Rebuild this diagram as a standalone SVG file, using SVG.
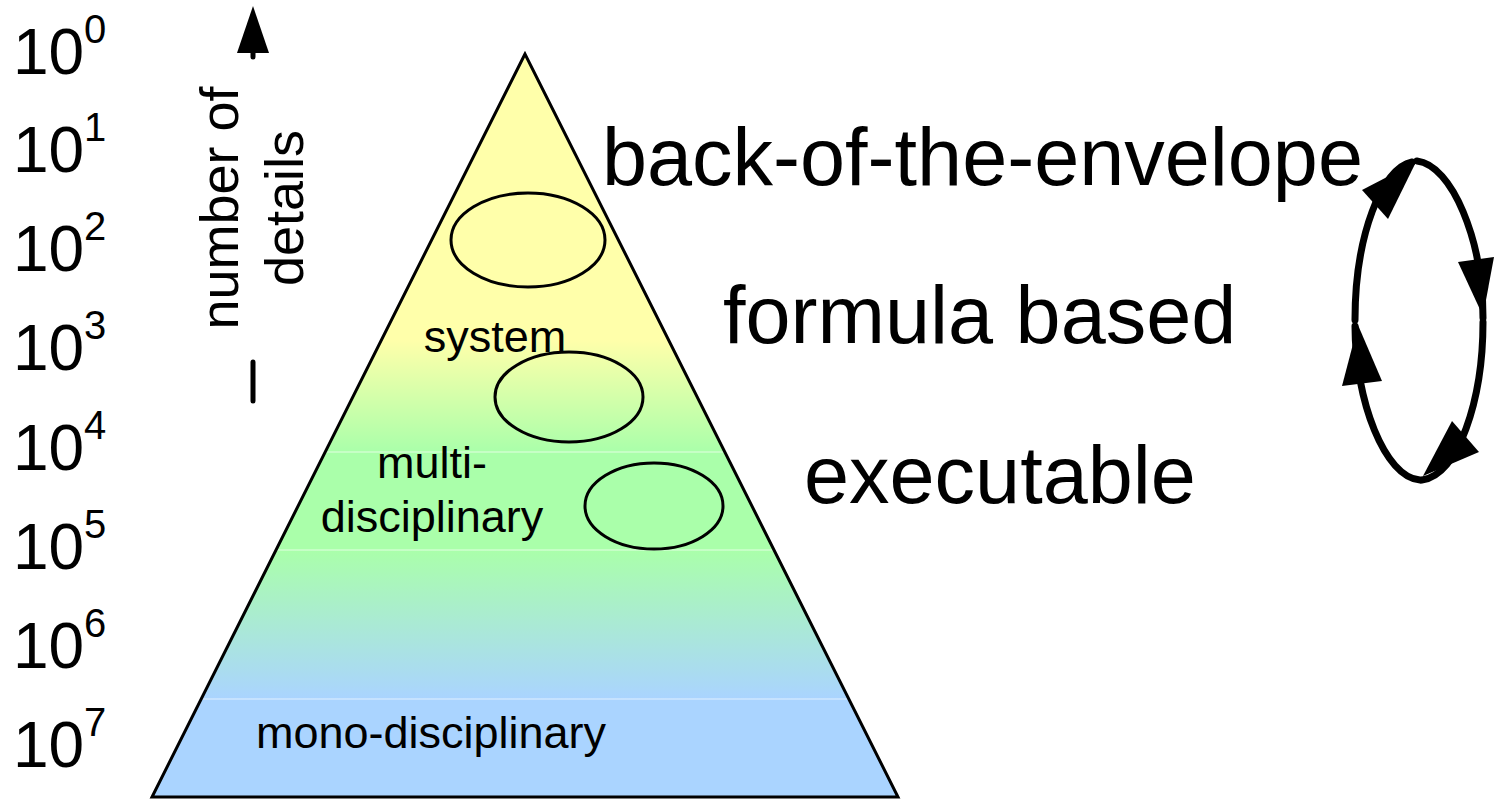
<svg xmlns="http://www.w3.org/2000/svg" width="1495" height="799" viewBox="0 0 1495 799">
<style>
  text { font-family: "Liberation Sans", Arial, sans-serif; fill: #000; }
  .pow { font-size: 64px; }
  .sup { font-size: 40px; }
  .axis { font-size: 54px; text-anchor: middle; }
  .big { font-size: 81px; }
  .lbl { font-size: 45px; text-anchor: middle; }
  .ell { fill: none; stroke: #000; stroke-width: 3; }
  .band { stroke: #ffffff; stroke-opacity: 0.45; stroke-width: 1.5; }
  .loop { fill: none; stroke: #000; stroke-width: 7; stroke-linecap: round; }
  .head { fill: #000; stroke: none; }
</style>
<defs>
  <linearGradient id="pyr" gradientUnits="userSpaceOnUse" x1="0" y1="55" x2="0" y2="797">
    <stop offset="0" stop-color="#ffffaa"/>
    <stop offset="0.384" stop-color="#ffffaa"/>
    <stop offset="0.535" stop-color="#aaffaa"/>
    <stop offset="0.667" stop-color="#aaffaa"/>
    <stop offset="0.868" stop-color="#aad4ff"/>
    <stop offset="1" stop-color="#aad4ff"/>
  </linearGradient>
  <clipPath id="triClip"><polygon points="525,54 152,797 898,797"/></clipPath>
</defs>

<g id="scale">
  <text class="pow" x="13" y="74">10<tspan class="sup" x="84" y="43">0</tspan></text>
  <text class="pow" x="13" y="172">10<tspan class="sup" x="84" y="141">1</tspan></text>
  <text class="pow" x="13" y="271">10<tspan class="sup" x="84" y="240">2</tspan></text>
  <text class="pow" x="13" y="370">10<tspan class="sup" x="84" y="339">3</tspan></text>
  <text class="pow" x="13" y="470">10<tspan class="sup" x="84" y="439">4</tspan></text>
  <text class="pow" x="13" y="569">10<tspan class="sup" x="84" y="538">5</tspan></text>
  <text class="pow" x="13" y="668">10<tspan class="sup" x="84" y="637">6</tspan></text>
  <text class="pow" x="13" y="767">10<tspan class="sup" x="84" y="736">7</tspan></text>
</g>

<g id="axis">
  <polygon class="head" points="253,6 269,53 237,53"/>
  <line x1="253" y1="52" x2="253" y2="57" stroke="#000" stroke-width="5" stroke-linecap="round"/>
  <line x1="253" y1="362" x2="253" y2="401" stroke="#000" stroke-width="5" stroke-linecap="round"/>
  <text class="axis" transform="translate(238,208) rotate(-90)">number of</text>
  <text class="axis" transform="translate(303,208) rotate(-90)">details</text>
</g>

<g id="pyramid">
  <polygon points="525,54 152,797 898,797" fill="url(#pyr)"/>
  <g clip-path="url(#triClip)">
    <line class="band" x1="150" y1="452" x2="900" y2="452"/>
    <line class="band" x1="150" y1="550" x2="900" y2="550"/>
    <line class="band" x1="150" y1="699" x2="900" y2="699"/>
  </g>
  <polygon points="525,54 152,797 898,797" fill="none" stroke="#000" stroke-width="3" stroke-linejoin="miter"/>
  <text class="lbl" x="495" y="352">system</text>
  <text class="lbl" x="432" y="478">multi-</text>
  <text class="lbl" x="432" y="532">disciplinary</text>
  <text class="lbl" x="431" y="748">mono-disciplinary</text>
</g>

<g id="ellipses">
  <ellipse id="e1" class="ell" cx="528" cy="240" rx="77" ry="47"/>
  <ellipse id="e2" class="ell" cx="569" cy="397" rx="74" ry="45"/>
  <ellipse id="e3" class="ell" cx="654" cy="506" rx="69" ry="43"/>
</g>

<g id="levels">
  <text class="big" x="602" y="185">back-of-the-envelope</text>
  <text class="big" x="723" y="343">formula based</text>
  <text class="big" x="804" y="503">executable</text>
</g>

<g id="cycle">
  <path class="loop" d="M1355,320 C1355,235 1382,168 1412,162"/>
  <path class="loop" d="M1417,161 C1452,165 1483,240 1483,318"/>
  <path class="loop" d="M1483,322 C1483,400 1458,476 1422,480"/>
  <path class="loop" d="M1420,480 C1385,478 1355,400 1355,326"/>
  <polygon class="head" points="1416,162 1362,190 1388,219"/>
  <polygon class="head" points="1483,316 1458,262 1494,257"/>
  <polygon class="head" points="1423,476 1452,421 1479,452"/>
  <polygon class="head" points="1358,325 1342,386 1382,381"/>
</g>
</svg>
